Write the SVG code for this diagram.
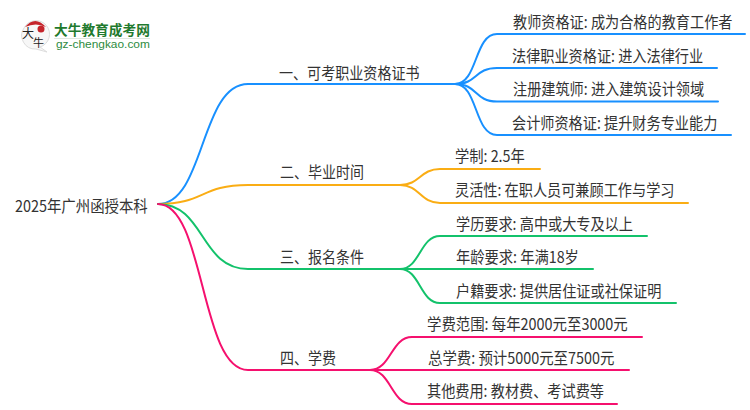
<svg xmlns="http://www.w3.org/2000/svg" width="750" height="410" viewBox="0 0 750 410">
<style>
text{font-family:"Noto Sans CJK SC","Noto Sans",sans-serif;font-size:14px;fill:#333}
.c{fill:none;stroke-width:2;stroke-linecap:round}
.b{stroke:#1890ff}.o{stroke:#faad14}.g{stroke:#13c26b}.p{stroke:#f5106e}
</style>
<rect width="750" height="410" fill="#fff"/>
<g id="logo">
<path d="M24 28A13.500 13.500 0 1 1 40 47L47 52L36 49A13.500 13.500 0 0 1 24 28Z" fill="#f7f7f7" stroke="#ddd"/>
<path d="M25 27Q35 15 46 27Q36 22 25 27Z" fill="#c5242b"/>
<circle cx="41" cy="29" r="3.500" fill="#c5242b"/>
<text x="22" y="38" style="font-size:12px;fill:#222">大</text>
<text x="33" y="47" style="font-size:11px;fill:#222">牛</text>
<text x="54" y="35" style="font-size:13.700px;font-weight:700;fill:#1f7a2e">大牛教育成考网</text>
<rect x="54" y="38" width="96" height="1" fill="#dfe8df"/>
<text transform="translate(56 48) scale(1.19 1)" style="font-family:'Liberation Sans',sans-serif;font-size:10px;fill:#2e8b3e">gz-chengkao.com</text>
</g>
<g id="connectors">
<path class="c b" d="M158 204C205 204 200 84 248 84H455"/>
<path class="c b" d="M455 84C478 84 474 34 497 34H745"/>
<path class="c b" d="M455 84C478 84 474 68 497 68H717"/>
<path class="c b" d="M455 84C478 84 474 101.500 497 101.500H718"/>
<path class="c b" d="M455 84C478 84 474 135 497 135H731"/>
<path class="c o" d="M158 204C205 204 200 185 248 185H400"/>
<path class="c o" d="M400 185C420 185 420 169 440 169H540"/>
<path class="c o" d="M400 185C420 185 420 203 440 203H688"/>
<path class="c g" d="M158 204C205 204 200 269 248 269H400"/>
<path class="c g" d="M400 269C420 269 420 236 440 236H647"/>
<path class="c g" d="M400 269H593"/>
<path class="c g" d="M400 269C420 269 420 303 440 303H676"/>
<path class="c p" d="M158 204C205 204 200 370 248 370H370"/>
<path class="c p" d="M370 370C391 370 391 337 412 337H642"/>
<path class="c p" d="M370 370H629"/>
<path class="c p" d="M370 370C391 370 391 404 412 404H617"/>
</g>
<g id="root"><text transform="translate(15 212) scale(1.03 1.14)">2025年广州函授本科</text></g>
<g id="n1"><text transform="translate(279 79) scale(1.005 1.14)">一、可考职业资格证书</text></g>
<g id="n1a"><text transform="translate(513 28) scale(1.012 1.14)">教师资格证: 成为合格的教育工作者</text></g>
<g id="n1b"><text transform="translate(512 62) scale(1.012 1.14)">法律职业资格证: 进入法律行业</text></g>
<g id="n1c"><text transform="translate(513 95) scale(1.012 1.14)">注册建筑师: 进入建筑设计领域</text></g>
<g id="n1d"><text transform="translate(512 129) scale(1.012 1.14)">会计师资格证: 提升财务专业能力</text></g>
<g id="n2"><text transform="translate(280 178) scale(1 1.14)">二、毕业时间</text></g>
<g id="n2a"><text transform="translate(455 162) scale(1.02 1.14)">学制: 2.5年</text></g>
<g id="n2b"><text transform="translate(455 196) scale(1.012 1.14)">灵活性: 在职人员可兼顾工作与学习</text></g>
<g id="n3"><text transform="translate(280 263) scale(1 1.14)">三、报名条件</text></g>
<g id="n3a"><text transform="translate(456 230) scale(1.012 1.14)">学历要求: 高中或大专及以上</text></g>
<g id="n3b"><text transform="translate(456 263) scale(1.02 1.14)">年龄要求: 年满18岁</text></g>
<g id="n3c"><text transform="translate(456 297) scale(1.012 1.14)">户籍要求: 提供居住证或社保证明</text></g>
<g id="n4"><text transform="translate(280 364) scale(1 1.14)">四、学费</text></g>
<g id="n4a"><text transform="translate(427 330) scale(1.03 1.14)">学费范围: 每年2000元至3000元</text></g>
<g id="n4b"><text transform="translate(428 364) scale(1.03 1.14)">总学费: 预计5000元至7500元</text></g>
<g id="n4c"><text transform="translate(427 397) scale(1.012 1.14)">其他费用: 教材费、考试费等</text></g>
</svg>
